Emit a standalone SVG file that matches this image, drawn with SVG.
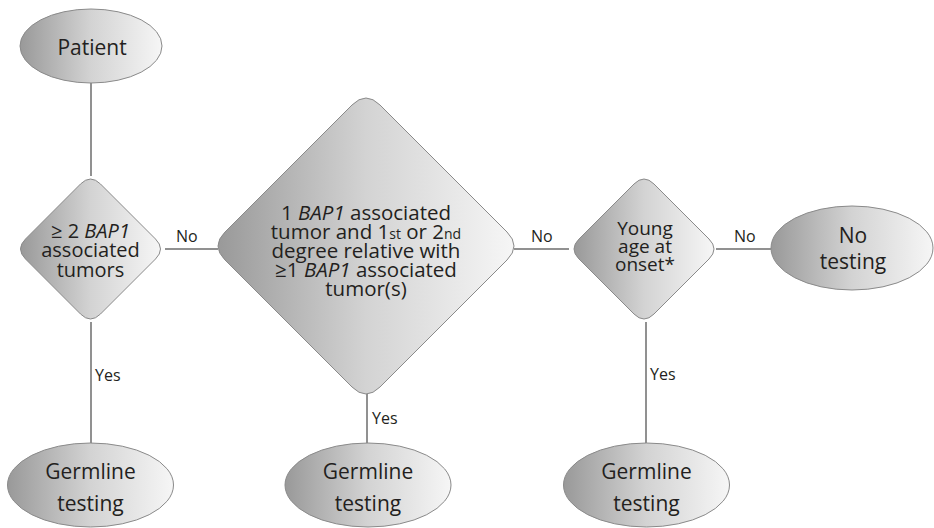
<svg xmlns="http://www.w3.org/2000/svg" width="934" height="528" viewBox="0 0 934 528">
<defs>
<linearGradient id="g" x1="0" y1="0" x2="1" y2="0">
<stop offset="0" stop-color="#999999"/>
<stop offset="0.5" stop-color="#d3d3d3"/>
<stop offset="1" stop-color="#f6f6f6"/>
</linearGradient>
</defs>
<style>
.shape{fill:url(#g);stroke:#8a8a8a;stroke-width:1}
.t{font-family:"Open Sans","Liberation Sans",sans-serif;fill:#231f20;text-anchor:middle}
.lbl{font-family:"Open Sans","Liberation Sans",sans-serif;fill:#231f20;font-size:16px}
.c{stroke:#6d6d6d;stroke-width:1.5;fill:none}
</style>
<rect width="934" height="528" fill="#ffffff"/>
<g id="connectors">
<line class="c" x1="91" y1="83" x2="91" y2="176"/>
<line class="c" x1="91" y1="322" x2="91" y2="444"/>
<line class="c" x1="165" y1="249" x2="218" y2="249"/>
<line class="c" x1="367" y1="392" x2="367" y2="444"/>
<line class="c" x1="514" y1="249" x2="569" y2="249"/>
<line class="c" x1="646" y1="322" x2="646" y2="444"/>
<line class="c" x1="716" y1="249" x2="771" y2="249"/>
<text class="lbl" x="176" y="242">No</text>
<text class="lbl" x="531" y="242">No</text>
<text class="lbl" x="734" y="242">No</text>
<text class="lbl" x="95" y="381">Yes</text>
<text class="lbl" x="372" y="424">Yes</text>
<text class="lbl" x="650" y="380">Yes</text>
</g>
<g id="patient">
<ellipse class="shape" cx="91" cy="46" rx="71" ry="37"/>
<text class="t" x="92" y="55" font-size="21">Patient</text>
</g>
<g id="decision1">
<path class="shape" d="M80.5,184 Q90.5,174 100.5,184 L155.5,239 Q165.5,249 155.5,259 L100.5,314 Q90.5,324 80.5,314 L25.5,259 Q15.5,249 25.5,239 Z"/>
<text class="t" x="90.5" y="238" font-size="20">≥ 2 <tspan font-style="italic">BAP1</tspan></text>
<text class="t" x="90.5" y="257" font-size="20">associated</text>
<text class="t" x="90.5" y="277" font-size="20">tumors</text>
</g>
<g id="decision2">
<path class="shape" d="M352,105 Q366,91 380,105 L507,232 Q521,246 507,260 L380,387 Q366,401 352,387 L225,260 Q211,246 225,232 Z"/>
<text class="t" x="366" y="220" font-size="20.5">1 <tspan font-style="italic">BAP1</tspan> associated</text>
<text class="t" x="366" y="239" font-size="20.5">tumor and 1<tspan font-size="14">st</tspan> or 2<tspan font-size="14">nd</tspan></text>
<text class="t" x="366" y="258" font-size="20.5">degree relative with</text>
<text class="t" x="366" y="277" font-size="20.5">≥1 <tspan font-style="italic">BAP1</tspan> associated</text>
<text class="t" x="366" y="296" font-size="20.5">tumor(s)</text>
</g>
<g id="decision3">
<path class="shape" d="M634,184 Q644,174 654,184 L709,239 Q719,249 709,259 L654,314 Q644,324 634,314 L579,259 Q569,249 579,239 Z"/>
<text class="t" x="645" y="235" font-size="19">Young</text>
<text class="t" x="645" y="253" font-size="19">age at</text>
<text class="t" x="645" y="271" font-size="19">onset*</text>
</g>
<g id="no-testing">
<ellipse class="shape" cx="852" cy="248" rx="81" ry="42"/>
<text class="t" x="853" y="243" font-size="21">No</text>
<text class="t" x="853" y="269" font-size="21">testing</text>
</g>
<g id="germline1">
<ellipse class="shape" cx="90.5" cy="485" rx="83" ry="42"/>
<text class="t" x="90.5" y="479" font-size="21">Germline</text>
<text class="t" x="90.5" y="511" font-size="21">testing</text>
</g>
<g id="germline2">
<ellipse class="shape" cx="368" cy="485" rx="83" ry="42"/>
<text class="t" x="368" y="479" font-size="21">Germline</text>
<text class="t" x="368" y="511" font-size="21">testing</text>
</g>
<g id="germline3">
<ellipse class="shape" cx="646.5" cy="485" rx="83" ry="42"/>
<text class="t" x="646.5" y="479" font-size="21">Germline</text>
<text class="t" x="646.5" y="511" font-size="21">testing</text>
</g>
</svg>
